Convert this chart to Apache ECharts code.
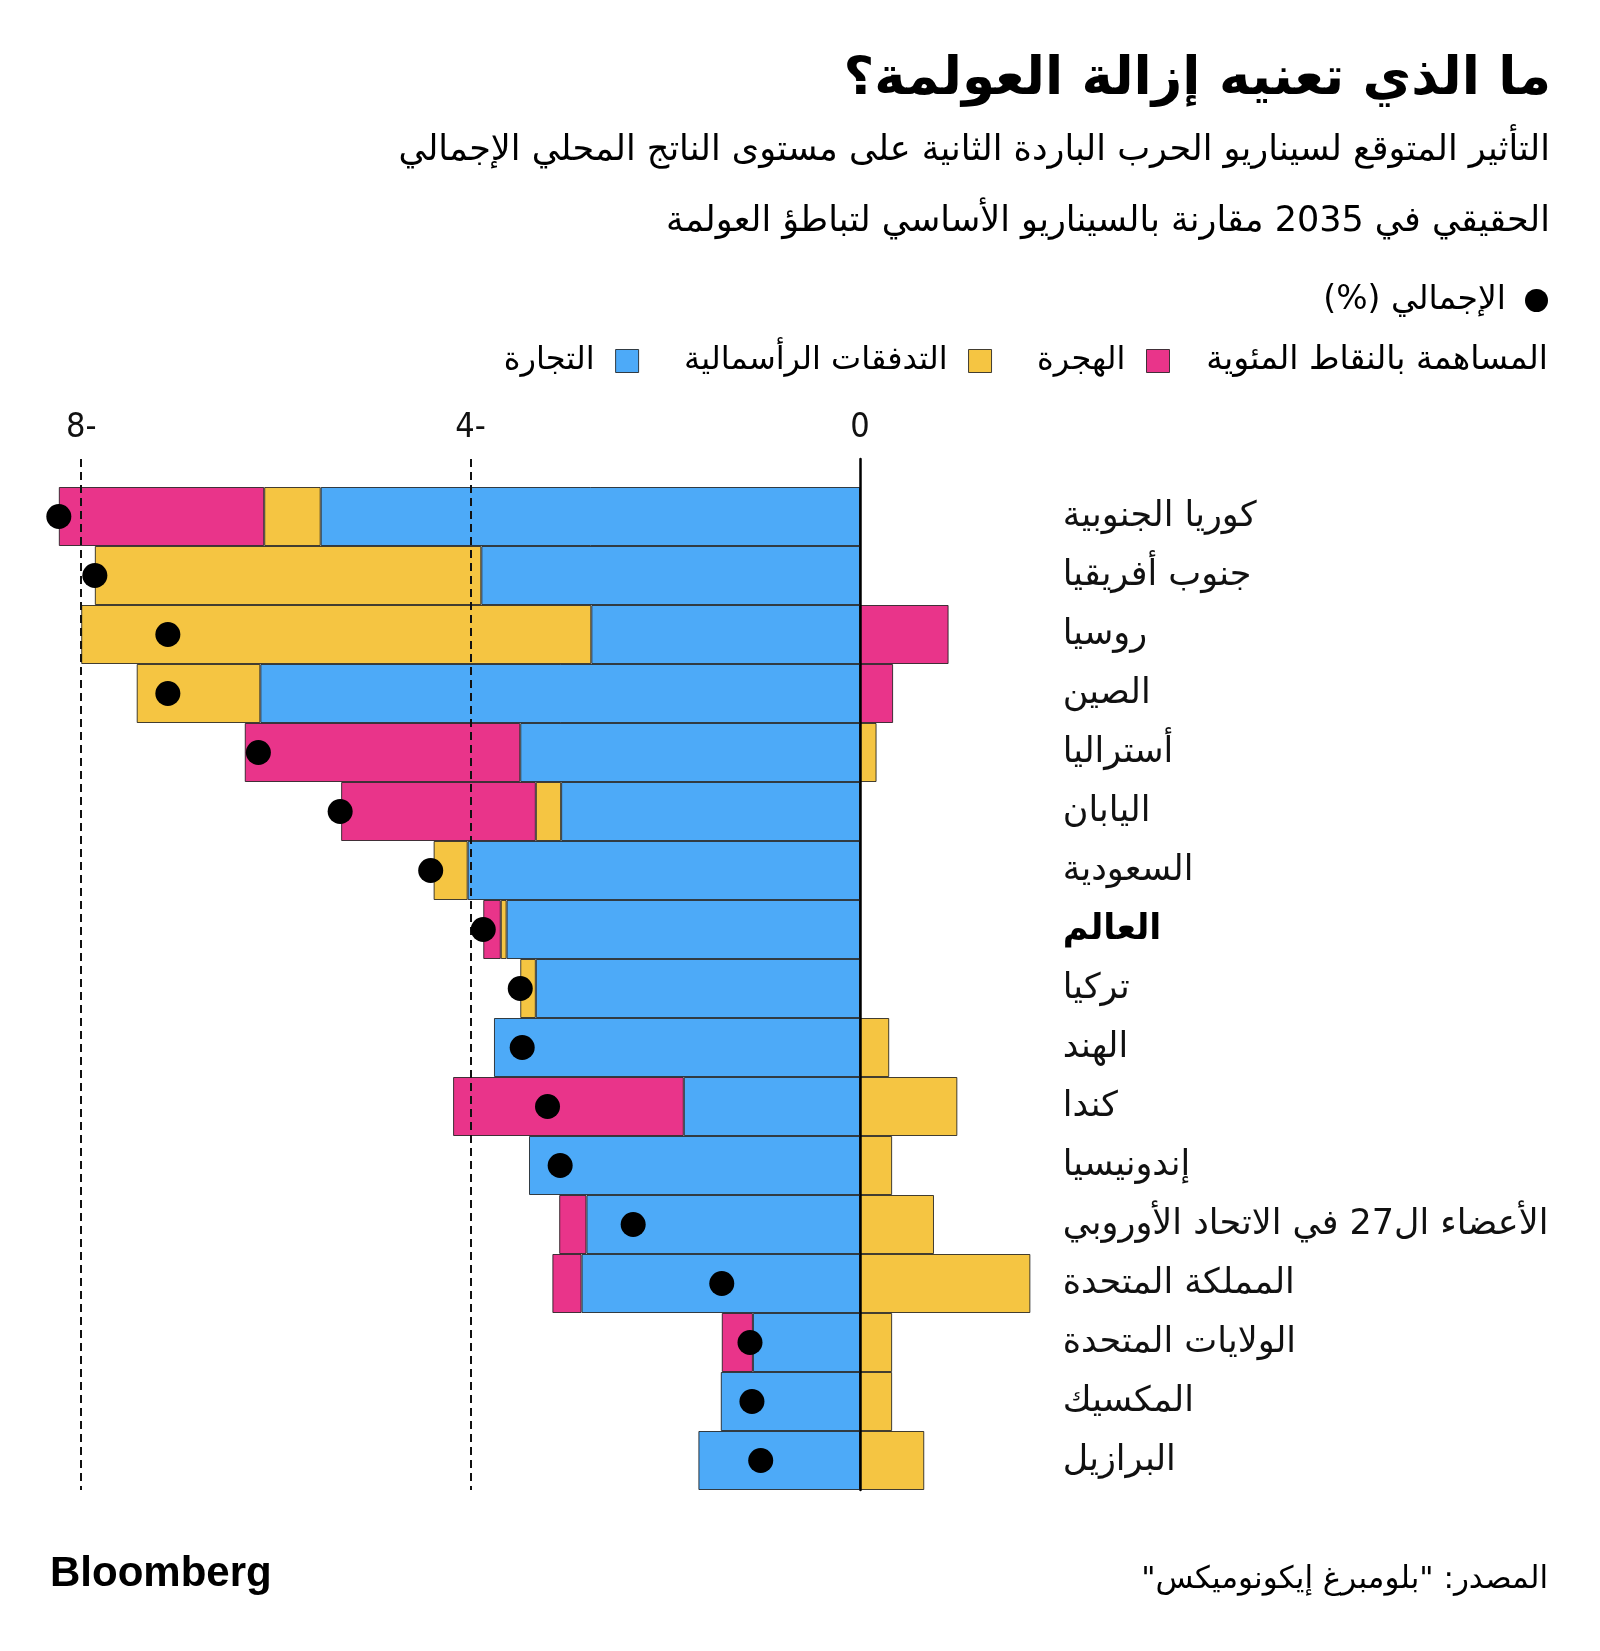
<!DOCTYPE html>
<html>
<head>
<meta charset="utf-8">
<script src="https://cdn.jsdelivr.net/npm/echarts@6/dist/echarts.min.js"></script>
<style>
  html, body { margin: 0; padding: 0; background: #ffffff; }
  #chart { width: 1600px; height: 1651px; direction: rtl; }
</style>
</head>
<body>
<div id="chart" dir="rtl"></div>
<script>
// ---------- data ----------
const categories = [
  'كوريا الجنوبية', 'جنوب أفريقيا', 'روسيا', 'الصين', 'أستراليا', 'اليابان',
  'السعودية', 'العالم', 'تركيا', 'الهند', 'كندا', 'إندونيسيا',
  'الأعضاء ال27 في الاتحاد الأوروبي', 'المملكة المتحدة', 'الولايات المتحدة',
  'المكسيك', 'البرازيل'
];
const trade     = [-5.54, -3.89, -2.76, -6.16, -3.49, -3.07, -4.03, -3.63, -3.33, -3.76, -1.81, -3.40, -2.81, -2.86, -1.10, -1.43, -1.66];
const capital   = [-0.58, -3.97, -5.24, -1.27,  0.17, -0.26, -0.35, -0.06, -0.16,  0.30,  1.00,  0.33,  0.76,  1.75,  0.33,  0.33,  0.66];
const migration = [-2.11,  0.00,  0.91,  0.34, -2.83, -2.00,  0.00, -0.18,  0.00,  0.00, -2.37,  0.00, -0.28, -0.30, -0.32,  0.00,  0.00];
const total     = [-8.23, -7.86, -7.11, -7.11, -6.18, -5.34, -4.41, -3.87, -3.49, -3.47, -3.21, -3.08, -2.33, -1.42, -1.13, -1.11, -1.02];
const axisTicks = [-8, -4, 0];

const seriesNames = { trade: 'التجارة', capital: 'التدفقات الرأسمالية', migration: 'الهجرة', total: 'الإجمالي (%)' };
const colors = { trade: '#4DAAF8', capital: '#F5C542', migration: '#E9348A', total: '#000000' };

const AR = "'DejaVu Sans', 'Noto Sans', sans-serif";
const ARC = "'DejaVu Sans Condensed', 'DejaVu Sans', sans-serif";

const nz = arr => arr.map(v => (v === 0 ? '-' : v));

const barBase = {
  type: 'bar', stack: 'gdp', barWidth: '100%', barCategoryGap: 0,
  xAxisIndex: 0, yAxisIndex: 0, z: 2,
  itemStyle: { borderColor: 'rgba(20,20,20,0.8)', borderWidth: 1 },
  emphasis: { disabled: true }
};

const chart = echarts.init(document.getElementById('chart'), null, { renderer: 'canvas' });

chart.setOption({
  backgroundColor: '#ffffff',
  animation: false,
  title: [
    { text: 'ما الذي تعنيه إزالة العولمة؟', right: 49, top: 54, padding: 0,
      textStyle: { fontFamily: AR, fontSize: 53, fontWeight: 'bold', color: '#000' } },
    { text: 'التأثير المتوقع لسيناريو الحرب الباردة الثانية على مستوى الناتج المحلي الإجمالي', right: 50, top: 133, padding: 0,
      textStyle: { fontFamily: AR, fontSize: 35, fontWeight: 'normal', color: '#000' } },
    { text: 'الحقيقي في 2035 مقارنة بالسيناريو الأساسي لتباطؤ العولمة', right: 50, top: 204, padding: 0,
      textStyle: { fontFamily: AR, fontSize: 35, fontWeight: 'normal', color: '#000' } },
    { text: 'المساهمة بالنقاط المئوية', right: 52, top: 344, padding: 0,
      textStyle: { fontFamily: AR, fontSize: 33, fontWeight: 'normal', color: '#000' } },
    { text: 'المصدر: "بلومبرغ إيكونوميكس"', right: 52, top: 1564, padding: 0,
      textStyle: { fontFamily: AR, fontSize: 31, fontWeight: 'normal', color: '#000' } },
    { text: 'Bloomberg', left: 50, top: 1553, padding: 0,
      textStyle: { fontFamily: "'Liberation Sans', Arial, sans-serif", fontSize: 42, fontWeight: 'bold', color: '#000' } }
  ],
  legend: [
    { data: [seriesNames.total], right: 52, top: 284, padding: 0, align: 'right', orient: 'horizontal',
      icon: 'circle', itemWidth: 23, itemHeight: 23,
      itemStyle: { opacity: 1, color: '#000' },
      textStyle: { fontFamily: AR, fontSize: 33, color: '#000', padding: [0, 14, 0, 0] } },
    { data: [seriesNames.trade, seriesNames.capital, seriesNames.migration], right: 430, top: 345, padding: 0,
      align: 'right', orient: 'horizontal', icon: 'rect', itemWidth: 23, itemHeight: 23, itemGap: 45,
      itemStyle: { borderColor: 'rgba(20,20,20,0.8)', borderWidth: 1 },
      textStyle: { fontFamily: AR, fontSize: 32, color: '#000', padding: [0, 16, 0, 0] } }
  ],
  grid: [
    { left: 22.8, right: 545.3, top: 487, bottom: 161, containLabel: false },
    { left: 81.2, right: 740, top: 459, bottom: 161, containLabel: false }
  ],
  xAxis: [
    { type: 'value', gridIndex: 0, min: -8.6, max: 2, show: false },
    { type: 'value', gridIndex: 1, min: -8, max: 0, interval: 4, position: 'top', z: 5,
      axisLine: { show: false }, axisTick: { show: false },
      axisLabel: { show: true, margin: 14, fontFamily: ARC, fontSize: 34, color: '#111',
        formatter: v => (axisTicks.indexOf(v) >= 0 ? String(v) : '') },
      splitLine: { show: true, showMaxLine: false,
        lineStyle: { color: '#111', width: 2, type: [8, 5] } } }
  ],
  yAxis: [
    { type: 'category', gridIndex: 0, data: categories, inverse: true, position: 'right',
      axisLine: { show: false }, axisTick: { show: false },
      axisLabel: { show: true, align: 'left', margin: 8, fontFamily: AR, fontSize: 35, color: '#111',
        formatter: v => (v === 'العالم' ? '{b|' + v + '}' : v),
        rich: { b: { fontFamily: AR, fontSize: 35, fontWeight: 'bold', color: '#000' } } } },
    { type: 'value', gridIndex: 1, min: 0, max: 1, position: 'right', z: 6,
      axisLine: { show: true, onZero: false, lineStyle: { color: '#000', width: 2.5 } },
      axisTick: { show: false }, axisLabel: { show: false }, splitLine: { show: false } }
  ],
  series: [
    Object.assign({}, barBase, { name: seriesNames.trade, data: nz(trade), itemStyle: Object.assign({}, barBase.itemStyle, { color: colors.trade }) }),
    Object.assign({}, barBase, { name: seriesNames.capital, data: nz(capital), itemStyle: Object.assign({}, barBase.itemStyle, { color: colors.capital }) }),
    Object.assign({}, barBase, { name: seriesNames.migration, data: nz(migration), itemStyle: Object.assign({}, barBase.itemStyle, { color: colors.migration }) }),
    { name: seriesNames.total, type: 'scatter', xAxisIndex: 0, yAxisIndex: 0, z: 20,
      symbol: 'circle', symbolSize: 25, itemStyle: { color: colors.total, opacity: 1 },
      emphasis: { disabled: true }, data: total }
  ]
});
</script>
</body>
</html>
